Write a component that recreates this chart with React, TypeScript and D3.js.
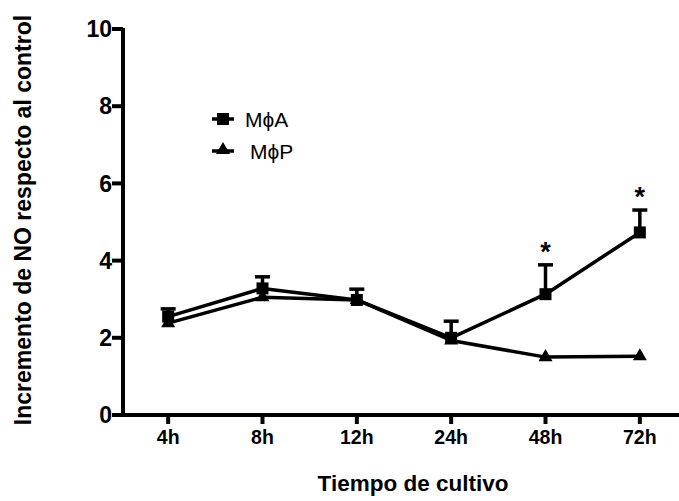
import React from "react";
import * as d3 from "d3";

const categories = ["4h", "8h", "12h", "24h", "48h", "72h"];
const seriesA = [2.55, 3.28, 2.98, 2.0, 3.13, 4.73];
const errorA = [0.2, 0.3, 0.28, 0.43, 0.76, 0.58];
const seriesP = [2.38, 3.05, 2.98, 1.93, 1.5, 1.52];
const significant = ["48h", "72h"];
const yTicks = [0, 2, 4, 6, 8, 10];
const legendLabels = ["M\u03D5A", "M\u03D5P"];

const W = 679;
const H = 501;
const FONT = "'Liberation Sans', Arial, Helvetica, sans-serif";

export default function App() {
  const x = d3.scalePoint<string>().domain(categories).range([121, 687]).padding(0.5);
  const y = d3.scaleLinear().domain([0, 10]).range([415, 29]);
  const axisX = 123;
  const axisY = y(0);

  const line = d3
    .line<number>()
    .x((_, i) => x(categories[i]) as number)
    .y((d) => y(d));

  const tri = d3.symbol(d3.symbolTriangle, 85)() as string;

  return (
    <svg width={W} height={H} style={{ position: "absolute", left: 0, top: 0, background: "#fff" }}>
      {/* series lines */}
      <path d={line(seriesP) as string} fill="none" stroke="#000" strokeWidth={3.5} strokeLinejoin="round" />
      <path d={line(seriesA) as string} fill="none" stroke="#000" strokeWidth={3.5} strokeLinejoin="round" />

      {/* error bars A */}
      {seriesA.map((v, i) => {
        const cx = x(categories[i]) as number;
        const top = y(v + errorA[i]);
        return (
          <g key={"e" + i}>
            <line x1={cx} x2={cx} y1={y(v)} y2={top} stroke="#000" strokeWidth={3.5} />
            <line x1={cx - 7.5} x2={cx + 7.5} y1={top} y2={top} stroke="#000" strokeWidth={3.5} />
          </g>
        );
      })}

      {/* markers */}
      {seriesP.map((v, i) => (
        <path key={"p" + i} d={tri} transform={`translate(${x(categories[i])},${y(v)})`} fill="#000" />
      ))}
      {seriesA.map((v, i) => (
        <rect key={"a" + i} x={(x(categories[i]) as number) - 6} y={y(v) - 6} width={12} height={12} fill="#000" />
      ))}

      {/* significance stars */}
      {significant.map((c) => {
        const i = categories.indexOf(c);
        return (
          <text
            key={"s" + c}
            x={x(c)}
            y={y(seriesA[i] + errorA[i]) - 4}
            textAnchor="middle"
            fontFamily={FONT}
            fontWeight="bold"
            fontSize={27}
          >
            *
          </text>
        );
      })}

      {/* y axis */}
      <line x1={axisX} x2={axisX} y1={y(10) - 1} y2={axisY + 2} stroke="#000" strokeWidth={4} />
      {yTicks.map((t) => (
        <g key={"yt" + t}>
          <line x1={axisX - 11} x2={axisX} y1={y(t)} y2={y(t)} stroke="#000" strokeWidth={4} />
          <text
            x={axisX - 11}
            y={y(t)}
            dy="0.36em"
            textAnchor="end"
            fontFamily={FONT}
            fontWeight="bold"
            fontSize={23}
          >
            {t}
          </text>
        </g>
      ))}

      {/* x axis */}
      <line x1={axisX - 2} x2={W} y1={axisY} y2={axisY} stroke="#000" strokeWidth={4} />
      {categories.map((c) => (
        <g key={"xt" + c}>
          <line x1={x(c)} x2={x(c)} y1={axisY} y2={axisY + 9} stroke="#000" strokeWidth={4} />
          <text x={x(c)} y={444} textAnchor="middle" fontFamily={FONT} fontWeight="bold" fontSize={19.5}>
            {c}
          </text>
        </g>
      ))}

      {/* axis titles */}
      <text x={413} y={491} textAnchor="middle" fontFamily={FONT} fontWeight="bold" fontSize={22.5}>
        Tiempo de cultivo
      </text>
      <text
        transform="translate(31,220) rotate(-90)"
        textAnchor="middle"
        fontFamily={FONT}
        fontWeight="bold"
        fontSize={23}
      >
        Incremento de NO respecto al control
      </text>

      {/* legend */}
      <g>
        <line x1={212} x2={234} y1={119} y2={119} stroke="#000" strokeWidth={3.5} />
        <rect x={217} y={113} width={12} height={12} fill="#000" />
        <text x={245} y={126.5} fontFamily={FONT} fontSize={21}>
          {legendLabels[0]}
        </text>
        <line x1={212} x2={234} y1={151} y2={151} stroke="#000" strokeWidth={3.5} />
        <path d={tri} transform="translate(223,150)" fill="#000" />
        <text x={250} y={158.5} fontFamily={FONT} fontSize={21}>
          {legendLabels[1]}
        </text>
      </g>
    </svg>
  );
}
